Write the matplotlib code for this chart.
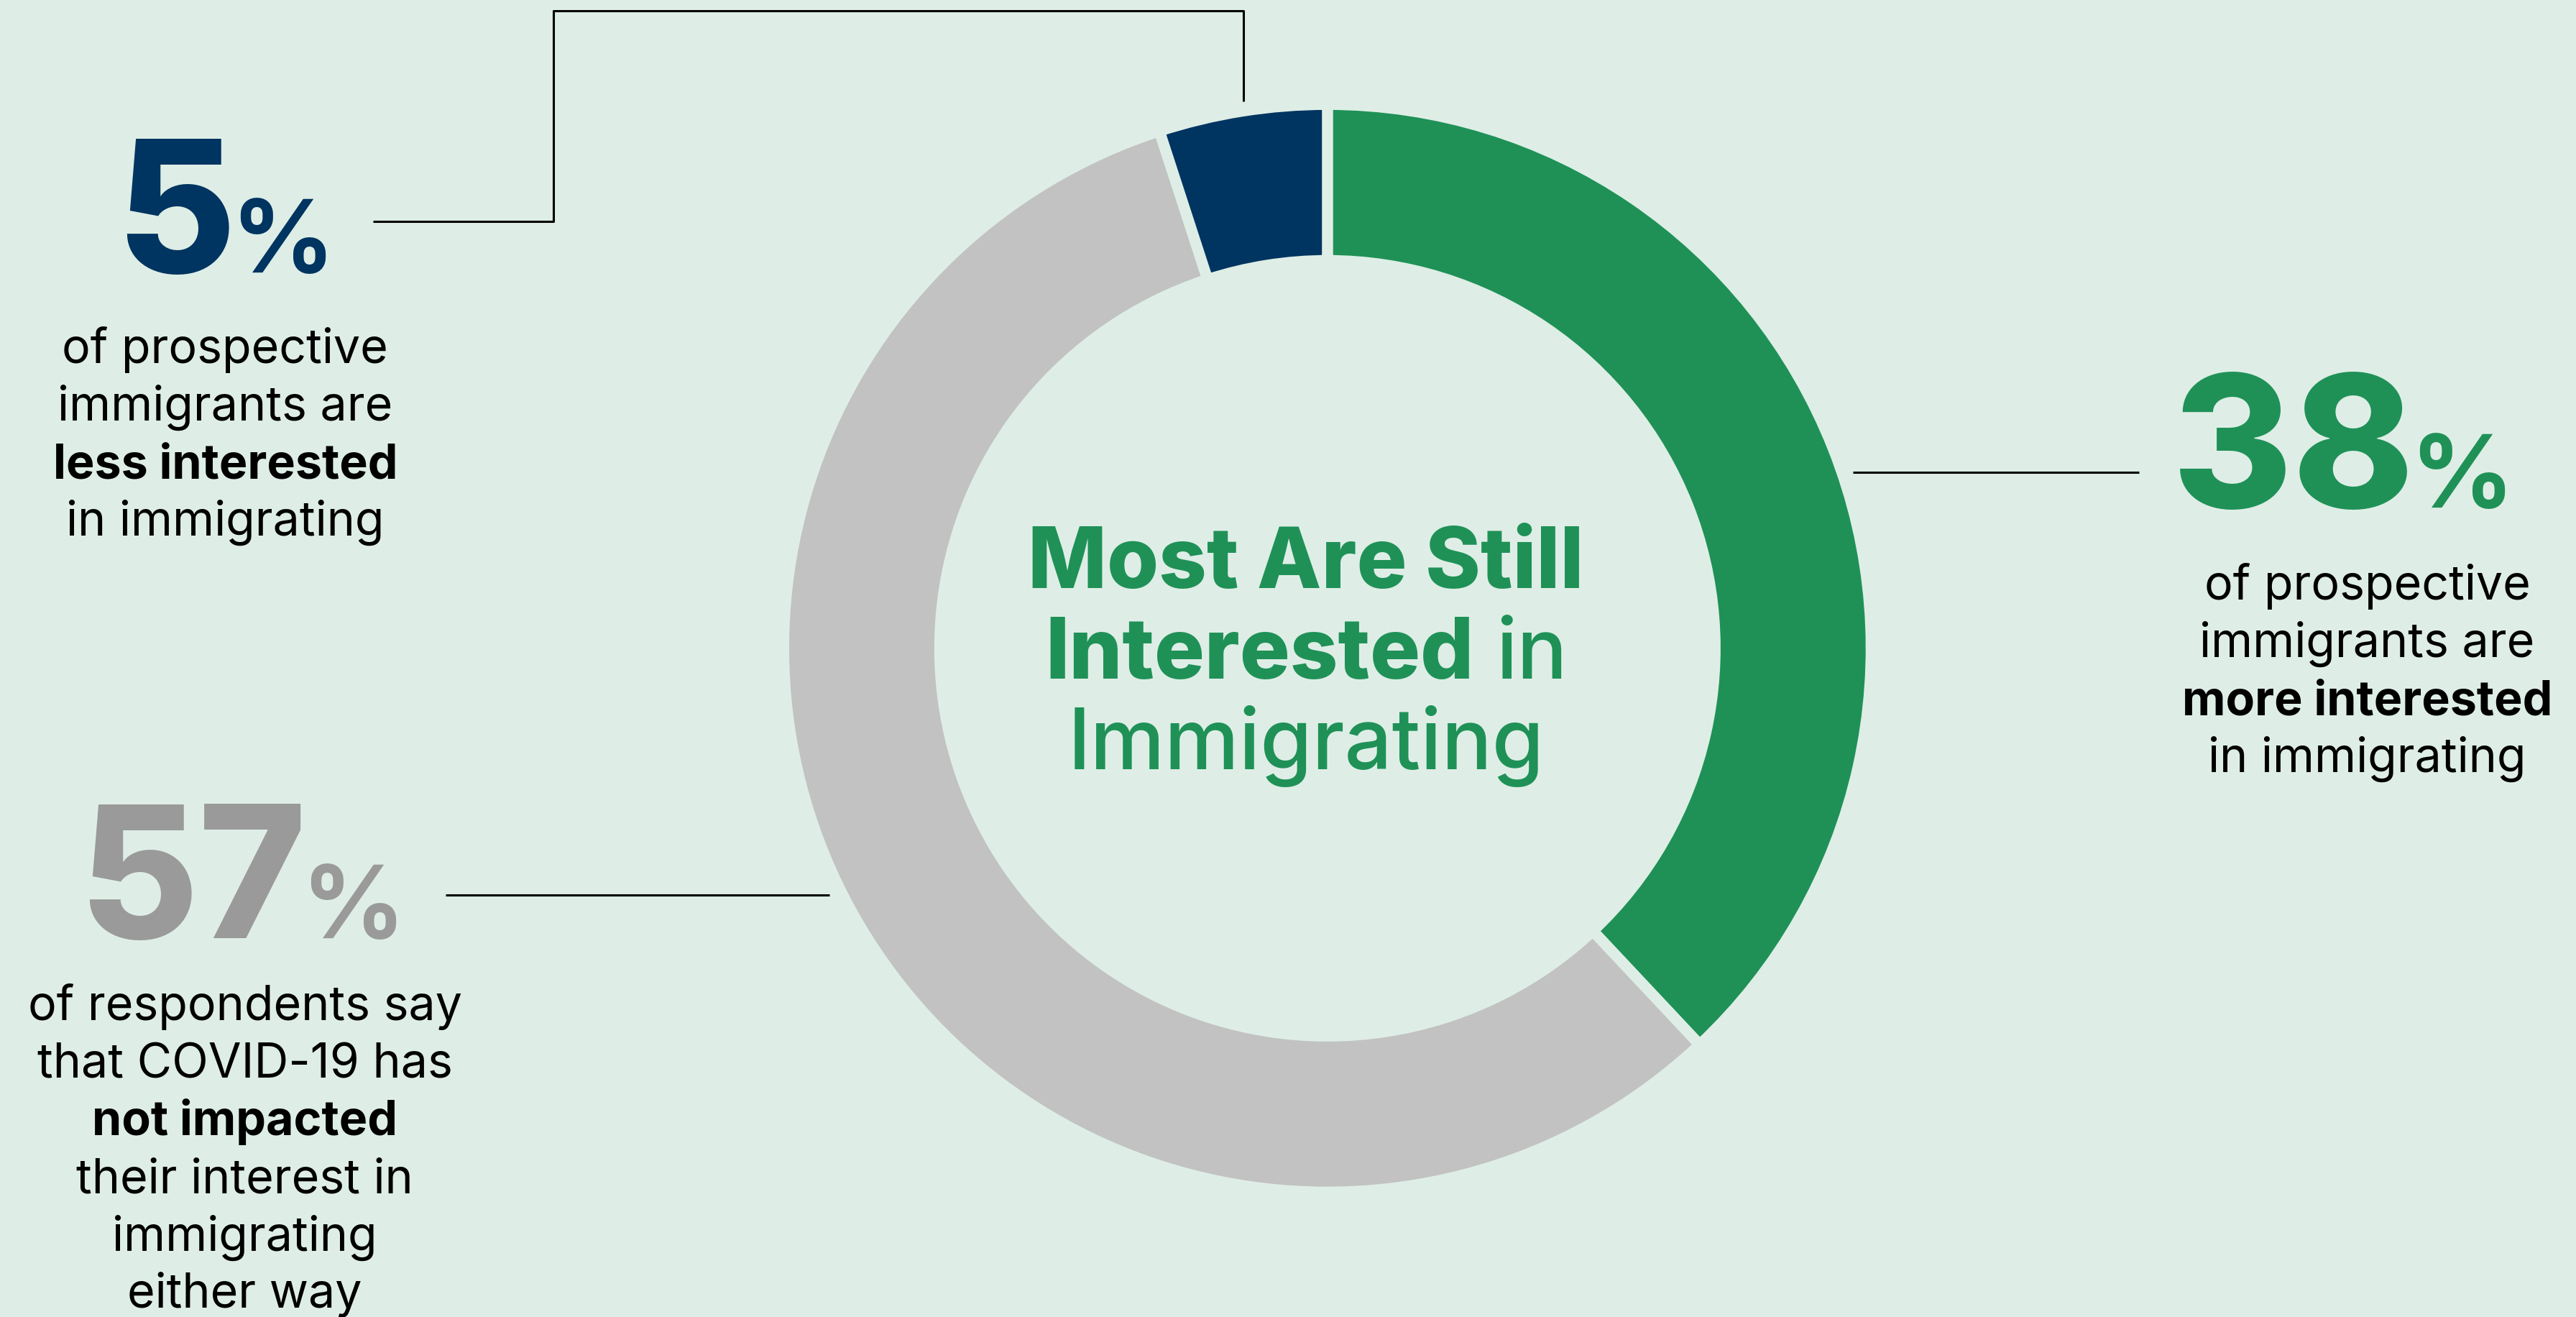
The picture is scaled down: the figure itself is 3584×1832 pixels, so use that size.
#!/usr/bin/env python3
"""
Donut chart: how COVID-19 changed interest in immigrating.
"""

import matplotlib
matplotlib.use("Agg")
import matplotlib.pyplot as plt

# data
labels = ["more interested", "not impacted", "less interested"]
shares = [38, 57, 5]
wedge_colors = ["#1f9157", "#c2c2c2", "#003461"]
number_colors = ["#1f9157", "#9a9a9a", "#003461"]

BG = "#deeee6"
FONT = ["Inter", "DejaVu Sans"]
W, H = 1568, 802          # layout units (scaled to 3584x1833 px)
PT = 3584 / W * 0.72      # points per layout unit


def draw_line(ax, x, y, runs, size, color, gap=None):
    """draw a line built from (text, weight[, size]) runs, centred at x, baseline y"""
    fig = ax.figure
    r = fig.canvas.get_renderer()
    scale = W / fig.bbox.width
    objs = []
    for run in runs:
        s, w = run[0], run[1]
        sz = run[2] if len(run) > 2 else size
        t = ax.text(0, H - y, s, fontsize=sz * PT, fontweight=w, color=color,
                    va="baseline", ha="left", family=FONT)
        objs.append(t)
    widths = [t.get_window_extent(renderer=r).width * scale for t in objs]
    if gap is None:
        gap = size * 0.26
    total = sum(widths) + gap * (len(objs) - 1)
    cur = x - total / 2
    for t, wd in zip(objs, widths):
        t.set_x(cur)
        cur += wd + gap


def main():
    fig = plt.figure(figsize=(35.84, 18.33), dpi=100, facecolor=BG)
    ax = fig.add_axes([0, 0, 1, 1])
    ax.set_facecolor(BG)

    # donut
    ax.pie(shares, colors=wedge_colors, startangle=90, counterclock=False,
           center=(808, H - 395), radius=331,
           wedgeprops=dict(width=95, edgecolor=BG, linewidth=11))

    # pie() resets the limits, so set them afterwards
    ax.set_xlim(0, W)
    ax.set_ylim(0, H)
    ax.set_aspect("equal")
    ax.axis("off")

    # leader lines
    lk = dict(color="black", lw=2.2, solid_capstyle="butt")
    ax.plot([757, 757, 337, 337, 227], [H - 62, H - 7, H - 7, H - 135, H - 135], **lk)
    ax.plot([1128, 1302], [H - 288, H - 288], **lk)
    ax.plot([271, 505], [H - 545, H - 545], **lk)

    # centre title
    green = wedge_colors[0]
    tsize = 51
    draw_line(ax, 795, 358, [("Most Are Still", "heavy")], tsize, green)
    draw_line(ax, 795, 413, [("Interested", "heavy"), ("in", "medium")], tsize, green)
    draw_line(ax, 795, 468, [("Immigrating", "medium")], tsize, green)

    nsize, psize, bsize = 112, 62, 29

    # 5% block
    draw_line(ax, 137, 166, [("5", "heavy"), ("%", "bold", psize)], nsize,
              number_colors[2], gap=-3)
    for i, runs in enumerate([[("of prospective", "normal")],
                              [("immigrants are", "normal")],
                              [("less interested", "bold")],
                              [("in immigrating", "normal")]]):
        draw_line(ax, 137, 221 + 35 * i, runs, bsize, "black")

    # 38% block
    draw_line(ax, 1426, 309, [("38", "heavy"), ("%", "bold", psize)], nsize,
              number_colors[0], gap=-3)
    for i, runs in enumerate([[("of prospective", "normal")],
                              [("immigrants are", "normal")],
                              [("more interested", "bold")],
                              [("in immigrating", "normal")]]):
        draw_line(ax, 1441, 365 + 35 * i, runs, bsize, "black")

    # 57% block
    draw_line(ax, 147, 571, [("57", "heavy"), ("%", "bold", psize)], nsize,
              number_colors[1], gap=-3)
    for i, runs in enumerate([[("of respondents say", "normal")],
                              [("that COVID-19 has", "normal")],
                              [("not impacted", "bold")],
                              [("their interest in", "normal")],
                              [("immigrating", "normal")],
                              [("either way", "normal")]]):
        draw_line(ax, 149, 621 + 35 * i, runs, bsize, "black")

    fig.savefig("out.png", dpi=100, facecolor=BG)


if __name__ == "__main__":
    main()
